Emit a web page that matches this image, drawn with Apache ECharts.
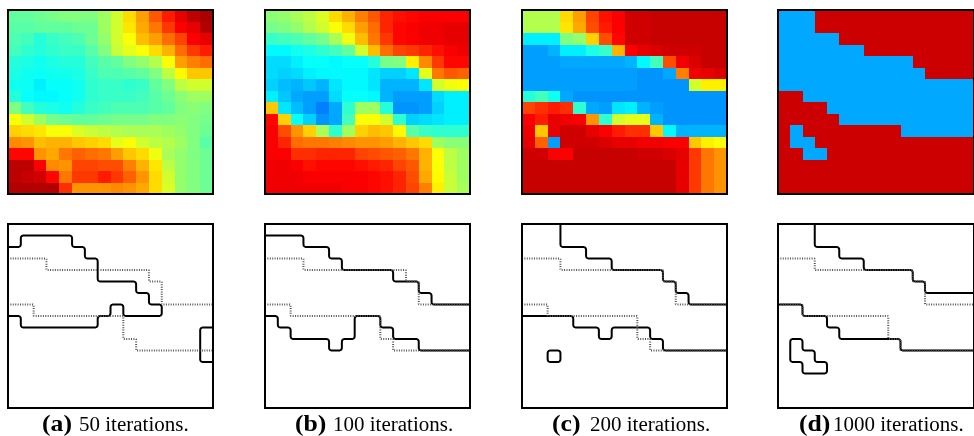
<!DOCTYPE html>
<html>
<head>
<meta charset="utf-8">
<style>html,body{margin:0;padding:0;background:#fff;overflow:hidden}#c{width:974px;height:436px;filter:blur(0.4px)}</style>
<script src="https://cdn.jsdelivr.net/npm/echarts@6/dist/echarts.min.js"></script>
</head>
<body>
<div id="c"></div>
<script>
const heatA = [
[.47,.47,.48,.49,.50,.50,.50,.53,.58,.66,.72,.79,.85,.90,.94,.96],
[.46,.46,.47,.47,.47,.48,.48,.53,.58,.65,.71,.76,.82,.88,.90,.95],
[.45,.44,.41,.43,.44,.45,.48,.52,.58,.62,.69,.72,.77,.81,.88,.90],
[.44,.42,.41,.42,.43,.43,.46,.50,.57,.60,.62,.66,.70,.77,.82,.85],
[.41,.40,.39,.40,.41,.41,.44,.46,.47,.50,.52,.55,.62,.72,.75,.77],
[.40,.39,.385,.39,.395,.40,.43,.45,.45,.46,.47,.50,.56,.63,.68,.68],
[.39,.385,.36,.38,.38,.39,.42,.43,.43,.42,.43,.47,.50,.56,.58,.58],
[.41,.38,.37,.37,.38,.39,.42,.43,.43,.43,.44,.46,.48,.51,.53,.53],
[.50,.44,.41,.40,.39,.41,.43,.44,.45,.45,.45,.46,.47,.50,.51,.50],
[.62,.58,.53,.49,.48,.47,.47,.48,.49,.49,.49,.50,.50,.51,.50,.49],
[.67,.66,.65,.62,.62,.59,.57,.56,.55,.54,.54,.54,.53,.52,.50,.48],
[.74,.73,.69,.70,.70,.68,.67,.66,.60,.62,.58,.56,.55,.53,.50,.46],
[.87,.87,.73,.71,.76,.78,.77,.76,.72,.68,.66,.61,.54,.52,.50,.48],
[.94,.94,.88,.74,.73,.81,.81,.80,.80,.75,.70,.65,.56,.52,.50,.48],
[.94,.93,.92,.87,.76,.82,.82,.85,.82,.78,.73,.66,.58,.52,.50,.48],
[.95,.95,.95,.95,.83,.73,.73,.73,.74,.73,.71,.66,.59,.52,.50,.48]
];
const heatB = [
[.51,.52,.54,.56,.59,.66,.70,.75,.79,.84,.86,.87,.88,.88,.88,.88],
[.49,.50,.52,.55,.58,.62,.66,.72,.77,.84,.87,.88,.89,.89,.90,.90],
[.43,.44,.45,.47,.49,.54,.61,.69,.76,.82,.87,.88,.89,.89,.90,.90],
[.37,.37,.39,.40,.42,.44,.47,.58,.69,.77,.81,.82,.84,.86,.88,.89],
[.34,.34,.36,.38,.38,.37,.38,.38,.41,.49,.50,.64,.74,.82,.87,.87],
[.34,.33,.34,.36,.37,.37,.37,.37,.35,.33,.33,.35,.60,.76,.79,.78],
[.33,.31,.30,.32,.30,.35,.37,.37,.35,.30,.30,.30,.35,.58,.61,.62],
[.36,.32,.29,.28,.28,.34,.38,.38,.37,.30,.28,.28,.28,.34,.36,.36],
[.68,.35,.31,.28,.25,.29,.42,.53,.53,.41,.27,.27,.28,.33,.36,.36],
[.87,.67,.38,.33,.27,.29,.44,.62,.62,.58,.42,.33,.34,.35,.36,.36],
[.88,.80,.73,.67,.54,.42,.53,.67,.69,.68,.63,.46,.43,.42,.42,.42],
[.88,.84,.77,.76,.76,.75,.74,.73,.73,.72,.70,.68,.66,.53,.51,.51],
[.88,.88,.83,.83,.84,.84,.84,.81,.80,.79,.78,.76,.70,.62,.56,.53],
[.89,.89,.88,.86,.87,.87,.87,.86,.85,.84,.81,.79,.70,.62,.56,.53],
[.89,.89,.89,.88,.88,.88,.88,.88,.87,.86,.84,.80,.71,.63,.57,.53],
[.89,.89,.89,.89,.89,.89,.88,.88,.87,.86,.84,.81,.75,.64,.57,.54]
];
const heatC = [
[.55,.55,.55,.66,.72,.81,.86,.88,.92,.92,.93,.93,.93,.93,.93,.93],
[.55,.55,.55,.65,.71,.80,.85,.88,.92,.92,.93,.93,.93,.93,.93,.93],
[.36,.36,.36,.50,.52,.67,.80,.87,.92,.92,.93,.93,.93,.93,.93,.93],
[.28,.28,.30,.36,.36,.40,.43,.70,.88,.90,.91,.92,.92,.92,.93,.93],
[.28,.28,.28,.29,.29,.29,.29,.29,.30,.37,.44,.80,.89,.91,.93,.93],
[.28,.28,.28,.28,.28,.28,.28,.28,.28,.27,.27,.29,.75,.89,.90,.91],
[.28,.28,.28,.28,.28,.28,.28,.28,.28,.27,.27,.27,.27,.58,.64,.64],
[.41,.44,.39,.29,.27,.27,.27,.27,.27,.27,.27,.27,.27,.27,.27,.27],
[.81,.83,.85,.83,.42,.29,.28,.35,.36,.30,.28,.27,.27,.27,.27,.27],
[.88,.85,.90,.89,.88,.73,.42,.58,.60,.60,.30,.27,.27,.27,.27,.27],
[.89,.68,.90,.92,.92,.90,.88,.85,.83,.83,.68,.37,.30,.30,.30,.30],
[.90,.78,.28,.92,.92,.92,.91,.90,.90,.89,.89,.88,.88,.68,.64,.62],
[.92,.92,.88,.88,.93,.93,.93,.93,.93,.92,.92,.91,.90,.82,.76,.73],
[.93,.93,.93,.93,.93,.93,.93,.93,.93,.93,.93,.93,.90,.82,.76,.73],
[.93,.93,.93,.93,.93,.93,.93,.93,.93,.93,.93,.93,.90,.82,.76,.73],
[.93,.93,.93,.93,.93,.93,.93,.93,.93,.93,.93,.93,.90,.82,.76,.73]
];
const B = .29, R = .925;
const heatD = [
[B,B,B,R,R,R,R,R,R,R,R,R,R,R,R,R],
[B,B,B,R,R,R,R,R,R,R,R,R,R,R,R,R],
[B,B,B,B,B,R,R,R,R,R,R,R,R,R,R,R],
[B,B,B,B,B,B,B,R,R,R,R,R,R,R,R,R],
[B,B,B,B,B,B,B,B,B,B,B,R,R,R,R,R],
[B,B,B,B,B,B,B,B,B,B,B,B,R,R,R,R],
[B,B,B,B,B,B,B,B,B,B,B,B,B,B,B,B],
[R,R,B,B,B,B,B,B,B,B,B,B,B,B,B,B],
[R,R,R,R,B,B,B,B,B,B,B,B,B,B,B,B],
[R,R,R,R,R,B,B,B,B,B,B,B,B,B,B,B],
[R,B,R,R,R,R,R,R,R,R,B,B,B,B,B,B],
[R,B,B,R,R,R,R,R,R,R,R,R,R,R,R,R],
[R,R,B,B,R,R,R,R,R,R,R,R,R,R,R,R],
[R,R,R,R,R,R,R,R,R,R,R,R,R,R,R,R],
[R,R,R,R,R,R,R,R,R,R,R,R,R,R,R,R],
[R,R,R,R,R,R,R,R,R,R,R,R,R,R,R,R]
];
const truthUpper = [[0,3],[3,3],[3,4],[11,4],[11,5],[12,5],[12,7],[16,7]];
const truthLower = [[0,7],[2,7],[2,8],[9,8],[9,10],[10,10],[10,11],[16,11]];
const contourA = [
 [[0,2],[1,2],[1,1],[5,1],[5,2],[6,2],[6,3],[7,3],[7,5],[10,5],[10,6],[11,6],[11,7],[12,7],[12,8],[9,8],[9,7],[8,7],[8,8],[7,8],[7,9],[1,9],[1,8],[0,8]],
 [[16,9],[15,9],[15,12],[16,12]]
];
const contourB = [
 [[0,1],[3,1],[3,2],[5,2],[5,3],[6,3],[6,4],[10,4],[10,5],[12,5],[12,6],[13,6],[13,7],[16,7]],
 [[0,8],[1,8],[1,9],[2,9],[2,10],[5,10],[5,11],[6,11],[6,10],[7,10],[7,8],[9,8],[9,9],[10,9],[10,10],[12,10],[12,11],[16,11]]
];
const contourC = [
 [[3,0],[3,2],[5,2],[5,3],[7,3],[7,4],[11,4],[11,5],[12,5],[12,6],[13,6],[13,7],[16,7]],
 [[0,8],[4,8],[4,9],[6,9],[6,10],[7,10],[7,9],[10,9],[10,10],[11,10],[11,11],[16,11]],
 [[2,11],[3,11],[3,12],[2,12],[2,11]]
];
const contourD = [
 [[3,0],[3,2],[5,2],[5,3],[7,3],[7,4],[11,4],[11,5],[12,5],[12,6],[16,6]],
 [[0,7],[2,7],[2,8],[4,8],[4,9],[5,9],[5,10],[10,10],[10,11],[16,11]],
 [[1,10],[2,10],[2,11],[3,11],[3,12],[4,12],[4,13],[2,13],[2,12],[1,12],[1,10]]
];
const captionLabels = ['(a)','(b)','(c)','(d)'];
const captionTexts = ['50 iterations.','100 iterations.','200 iterations.','1000 iterations.'];
const labelLeft = [38,291,548,802];
const textLeft = [79,333,590,833];
const categories = Array.from({length:16},(_,i)=>String(i));
const jet = ['#000080','#0000ff','#0080ff','#00ffff','#80ff80','#ffff00','#ff8000','#ff0000','#800000'];

const panelLeft = [8,265,522,778], panelW = 205, panelH = 184;
const heatTop = 10, lineTop = 224;

function roundedPoints(verts, pxCoord, r){
  const closed = verts[0][0]===verts[verts.length-1][0] && verts[0][1]===verts[verts.length-1][1];
  const p = (closed?verts.slice(0,-1):verts).map(pxCoord);
  const n = p.length, out = [];
  const corner = i => {
    const a=p[(i-1+n)%n], b=p[i], c=p[(i+1)%n];
    const la=Math.hypot(a[0]-b[0],a[1]-b[1]), lc=Math.hypot(c[0]-b[0],c[1]-b[1]);
    const s=[b[0]+(a[0]-b[0])/la*r, b[1]+(a[1]-b[1])/la*r];
    const e=[b[0]+(c[0]-b[0])/lc*r, b[1]+(c[1]-b[1])/lc*r];
    for(let k=0;k<=6;k++){const t=k/6,u=1-t;
      out.push([u*u*s[0]+2*u*t*b[0]+t*t*e[0], u*u*s[1]+2*u*t*b[1]+t*t*e[1]]);}
  };
  if(closed){ for(let i=0;i<n;i++) corner(i); out.push(out[0]); }
  else { out.push(p[0]); for(let i=1;i<n-1;i++) corner(i); out.push(p[n-1]); }
  return out;
}

const grid=[], xAxis=[], yAxis=[], series=[];
function addGrid(left,top,cat){
  const gi=grid.length;
  grid.push({left,top,width:panelW,height:panelH,containLabel:false});
  const line={show:true,onZero:false,lineStyle:{color:'#000',width:2,cap:'square'}};
  const base={gridIndex:gi,z:10,axisTick:{show:false},axisLabel:{show:false},splitLine:{show:false},axisLine:line,silent:true};
  const xc=cat?{type:'category',data:categories,boundaryGap:true}:{type:'value',min:0,max:16};
  const yc=cat?{type:'category',data:categories,boundaryGap:true,inverse:true}:{type:'value',min:0,max:16,inverse:true};
  const xi=xAxis.length, yi=yAxis.length;
  xAxis.push({...base,...xc,position:'bottom'},{...base,...xc,position:'top'});
  yAxis.push({...base,...yc,position:'left'},{...base,...yc,position:'right'});
  return {xi,yi};
}
function addContour(verts,ax,style,r){
  series.push({
    type:'custom',coordinateSystem:'cartesian2d',xAxisIndex:ax.xi,yAxisIndex:ax.yi,
    data:verts,encode:{x:0,y:1},silent:true,animation:false,clip:false,z:style.z,
    renderItem:(params,api)=>{
      if(params.dataIndex!==0) return null;
      const pts=roundedPoints(verts,v=>api.coord(v),r);
      return {type:'polyline',shape:{points:pts},
        style:{fill:null,stroke:style.color,lineWidth:style.width,lineDash:style.dash||null,lineCap:style.dash?'butt':'round',lineJoin:'round'}};
    }
  });
}
const solid={color:'#000',width:2,z:3}, dotted={color:'#555',width:2,dash:[1,1.4],z:4};
function heatCell(params,api){
  const c=api.coord([api.value(0),api.value(1)]), s=api.size([1,1]);
  const x0=Math.round(c[0]-s[0]/2), x1=Math.round(c[0]+s[0]/2);
  const y0=Math.round(c[1]-s[1]/2), y1=Math.round(c[1]+s[1]/2);
  return {type:'rect',shape:{x:x0,y:y0,width:x1-x0,height:y1-y0},style:{fill:api.visual('color'),stroke:null}};
}
[heatA,heatB,heatC,heatD].forEach((h,p)=>{
  const ax=addGrid(panelLeft[p],heatTop,true);
  const data=[];
  h.forEach((row,y)=>row.forEach((v,x)=>data.push([x,y,v])));
  series.push({type:'custom',coordinateSystem:'cartesian2d',xAxisIndex:ax.xi,yAxisIndex:ax.yi,data,encode:{x:0,y:1,value:2},renderItem:heatCell,silent:true,animation:false,z:2});
});
const hmIdx=[0,1,2,3];
[contourA,contourB,contourC,contourD].forEach((cs,p)=>{
  const ax=addGrid(panelLeft[p],lineTop,false);
  cs.forEach(c=>addContour(c,ax,solid,3));
  addContour(truthUpper,ax,dotted,1);
  addContour(truthLower,ax,dotted,1);
});
const graphic=[];
captionLabels.forEach((l,i)=>{
  graphic.push({type:'text',x:labelLeft[i]+(i===3?-3:4),y:425,scaleX:1.07,style:{text:l,fontFamily:'Liberation Serif',fontWeight:'bold',fontSize:24,fill:'#000',verticalAlign:'middle'}});
  graphic.push({type:'text',x:textLeft[i],y:425.5,scaleX:1.05,style:{text:captionTexts[i],fontFamily:'Liberation Serif',fontWeight:'normal',fontSize:20,fill:'#000',verticalAlign:'middle'}});
});
const chart=echarts.init(document.getElementById('c'),null,{renderer:'canvas',width:974,height:436});
chart.setOption({
  animation:false,backgroundColor:'#fff',grid,xAxis,yAxis,series,graphic,
  visualMap:{show:false,type:'continuous',min:0,max:1,seriesIndex:hmIdx,dimension:2,inRange:{color:jet}}
});
</script>
</body>
</html>
